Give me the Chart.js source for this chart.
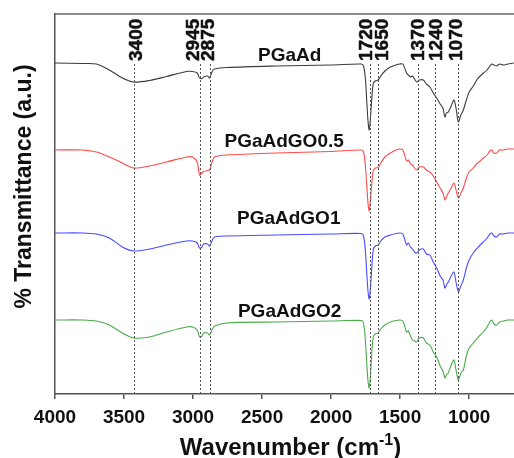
<!DOCTYPE html>
<html>
<head>
<meta charset="utf-8">
<script src="https://cdn.jsdelivr.net/npm/chart.js@4.4.1/dist/chart.umd.min.js"></script>
<style>
  html, body { margin: 0; padding: 0; background: #fff; }
</style>
</head>
<body>
<canvas id="chart" width="514" height="458"></canvas>
<script>
// wavenumbers (cm-1) shared by all four spectra
const wavenumbers = [4000, 3800, 3700, 3606, 3512, 3432, 3316, 3192, 3047, 3004,
  2970, 2953, 2935, 2924, 2895, 2880, 2860, 2844, 2757, 2400,
  2000, 1780, 1765, 1752, 1742, 1732, 1724, 1716, 1706, 1695,
  1680, 1659, 1640, 1610, 1570, 1530, 1501, 1480, 1453, 1440,
  1425, 1410, 1395, 1380, 1360, 1332, 1310, 1284, 1260, 1235,
  1210, 1190, 1175, 1165, 1151, 1130, 1110, 1095, 1078, 1060,
  1042, 1020, 1000, 970, 940, 920, 897, 870, 850, 836,
  820, 800, 780, 752, 720, 675];

// stacked transmittance (a.u.)
const pgaad = [331, 330.5, 330, 324, 316, 312, 313.5, 317.5, 322.5, 322.5,
  321, 316, 315.5, 317, 318, 316, 323, 325, 326.5, 328,
  329, 330, 328, 316, 294, 272, 264, 274, 294, 310,
  313, 314, 318, 323, 327, 329, 330, 330, 321, 319,
  317, 318, 315, 312, 314, 314, 310, 307, 301, 296,
  290, 286, 277, 281, 282, 288, 294, 286, 272, 279,
  284, 294, 302, 308, 315, 318, 321, 324, 328, 330,
  329, 328, 330, 329, 330, 331];

const pgaadGO05 = [244, 244, 242, 237, 231, 226, 228, 232, 237, 237,
  232, 219, 221, 222.5, 223.5, 224, 233, 237, 239, 241,
  242.5, 244, 242, 229, 209, 190, 183, 192, 209, 223,
  226, 226.5, 231, 237, 241, 244, 245, 244, 233, 234,
  230, 229, 226, 224, 227, 227, 224, 222, 218, 212,
  206, 201, 194, 197, 201, 206, 211, 204, 196, 201,
  206, 216, 222, 226, 231, 233, 236, 239, 243, 244,
  241, 241, 244, 244, 245, 245];

const pgaadGO1 = [161, 161, 160, 156, 147, 143, 145, 149, 153, 153,
  151, 146, 147, 150, 150, 148, 154, 157, 158, 159,
  160, 160.5, 158, 144, 122, 102, 95, 104, 124, 144,
  148, 149, 153, 157, 159, 160.5, 161, 160, 149, 151,
  147, 145, 142, 141, 144, 145, 140, 139, 132, 126,
  118, 114, 106, 109, 112, 118, 122, 112, 102, 108,
  114, 126, 134, 141, 146, 149, 152, 156, 160, 161,
  158, 157, 160, 160, 161, 161];

const pgaadGO2 = [74, 74, 73, 69, 61, 56, 57, 62, 67, 67,
  64, 57, 58, 61, 61, 59, 65, 68, 71, 72,
  73, 73.5, 71, 54, 32, 12, 6, 16, 39, 57,
  60, 61, 65, 69, 72, 73.5, 74, 73, 62, 63,
  58, 54, 53, 52, 56, 56, 51, 49, 42, 37,
  28, 23, 16, 19, 21, 29, 34, 24, 14, 21,
  24, 38, 46, 51, 56, 59, 62, 67, 72, 74,
  70, 69, 72, 73, 74, 74];

const seriesNames = ['PGaAd', 'PGaAdGO0.5', 'PGaAdGO1', 'PGaAdGO2'];
const seriesColors = ['#3c3c3c', '#ff4a4a', '#4a4aff', '#4aaa4a'];

// marked bands
const peakLabels = ['3400', '2945', '2875', '1720', '1650', '1370', '1240', '1070'];
const peakPositions = [3430, 2946, 2880, 1720, 1658, 1372, 1247, 1078];

const xTicks = [4000, 3500, 3000, 2500, 2000, 1500, 1000];

// label placement (layout only)
const peakLabelShift = [3, -6.5, -0.5, -3, 4, 1, 2, -2];
const seriesLabelAt = [[2300, 333.5], [2340, 247], [2307, 170], [2300, 77]];

const FONT = '"Liberation Sans", Arial, sans-serif';

function toPoints(values) {
    return wavenumbers.map((w, i) => ({ x: w, y: values[i] }));
}

const allSeries = [pgaad, pgaadGO05, pgaadGO1, pgaadGO2];

const overlay = {
    id: 'overlay',
    afterDraw(chart) {
        const ctx = chart.ctx;
        const area = chart.chartArea;
        const x = chart.scales.x;
        const y = chart.scales.y;
        ctx.save();

        // top frame line
        ctx.strokeStyle = '#666';
        ctx.lineWidth = 1.5;
        ctx.beginPath();
        ctx.moveTo(area.left, area.top);
        ctx.lineTo(area.right, area.top);
        ctx.stroke();

        // dashed band lines
        ctx.strokeStyle = '#555';
        ctx.lineWidth = 1;
        ctx.setLineDash([2, 2]);
        peakPositions.forEach(w => {
            const px = Math.round(x.getPixelForValue(w)) + 0.5;
            ctx.beginPath();
            ctx.moveTo(px, area.top + 50);
            ctx.lineTo(px, area.bottom);
            ctx.stroke();
        });
        ctx.setLineDash([]);

        // band labels, rotated
        ctx.fillStyle = '#111';
        ctx.strokeStyle = '#111';
        ctx.lineWidth = 0.5;
        ctx.font = 'bold 19px ' + FONT;
        ctx.textAlign = 'left';
        ctx.textBaseline = 'middle';
        peakPositions.forEach((w, i) => {
            ctx.save();
            ctx.translate(x.getPixelForValue(w) + peakLabelShift[i], area.top + 47);
            ctx.rotate(-Math.PI / 2);
            ctx.fillText(peakLabels[i], 0, 0);
            ctx.strokeText(peakLabels[i], 0, 0);
            ctx.restore();
        });

        // series names
        ctx.textAlign = 'center';
        ctx.textBaseline = 'alphabetic';
        seriesNames.forEach((name, i) => {
            const p = seriesLabelAt[i];
            ctx.fillText(name, x.getPixelForValue(p[0]), y.getPixelForValue(p[1]));
        });

        // y title
        ctx.save();
        ctx.font = 'bold 23px ' + FONT;
        ctx.translate(31, 186.5);
        ctx.rotate(-Math.PI / 2);
        ctx.textAlign = 'center';
        ctx.fillText('% Transmittance (a.u.)', 0, 0);
        ctx.restore();

        // x title with superscript
        const main = 'Wavenumber (cm';
        const sup = '-1';
        const tail = ')';
        ctx.textAlign = 'left';
        ctx.font = 'bold 24px ' + FONT;
        const wMain = ctx.measureText(main).width;
        const wTail = ctx.measureText(tail).width;
        ctx.font = 'bold 16px ' + FONT;
        const wSup = ctx.measureText(sup).width;
        let tx = 290.5 - (wMain + wSup + wTail) / 2;
        const base = 455;
        ctx.font = 'bold 24px ' + FONT;
        ctx.fillText(main, tx, base);
        tx += wMain;
        ctx.font = 'bold 16px ' + FONT;
        ctx.fillText(sup, tx, base - 10);
        tx += wSup;
        ctx.font = 'bold 24px ' + FONT;
        ctx.fillText(tail, tx, base);

        ctx.restore();
    }
};

new Chart(document.getElementById('chart'), {
    type: 'line',
    data: {
        datasets: allSeries.map((vals, i) => ({
            label: seriesNames[i],
            data: toPoints(vals),
            borderColor: seriesColors[i],
            borderWidth: 1.1,
            pointRadius: 0,
            tension: 0.3,
            fill: false
        }))
    },
    options: {
        responsive: false,
        animation: false,
        layout: { padding: { top: 14, right: 0, left: 0, bottom: 0 } },
        plugins: { legend: { display: false }, tooltip: { enabled: false } },
        scales: {
            x: {
                type: 'linear',
                reverse: true,
                min: 675,
                max: 4000,
                afterBuildTicks: s => { s.ticks = xTicks.map(v => ({ value: v })); },
                afterFit: s => { s.height = 64; },
                grid: { drawOnChartArea: false, drawTicks: true, tickLength: 5, color: '#555', lineWidth: 1.5 },
                border: { color: '#555', width: 1.5 },
                ticks: {
                    font: { family: FONT, size: 19, weight: 'bold' },
                    color: '#111',
                    padding: 7,
                    maxRotation: 0,
                    callback: v => String(v)
                }
            },
            y: {
                min: 0,
                max: 380,
                afterFit: s => { s.width = 55; },
                grid: { display: false },
                border: { display: true, color: '#555', width: 1.5 },
                ticks: { display: false }
            }
        }
    },
    plugins: [overlay]
});
</script>
</body>
</html>
